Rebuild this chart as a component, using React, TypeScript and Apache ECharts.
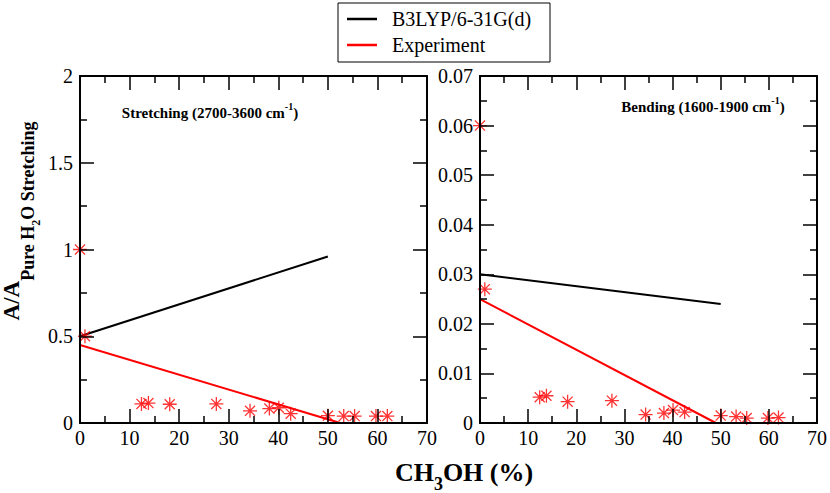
import React, { useEffect, useRef } from "react";
import * as echarts from "echarts";

// ---- data ----
const xTickLabels = ["0", "10", "20", "30", "40", "50", "60", "70"];
const calcX = [0, 50];
const stretchCalc = [0.5, 0.96];
const stretchFitX = [0, 52.5];
const stretchFit = [0.45, 0];
const expX = [0, 1, 12.4, 13.8, 18.1, 27.5, 34.3, 38.2, 40.1, 42.5, 50, 53.2, 55.4, 59.7, 62];
const stretchExp = [1.0, 0.5, 0.11, 0.115, 0.108, 0.11, 0.07, 0.083, 0.088, 0.054, 0.042, 0.04, 0.04, 0.04, 0.04];
const bendCalc = [0.03, 0.024];
const bendFitX = [0, 49];
const bendFit = [0.025, 0];
const bendExpX = [0, 1, 12.4, 13.8, 18.2, 27.4, 34.4, 38.2, 40.1, 42.5, 50, 53.2, 55.4, 59.8, 62];
const bendExp = [0.06, 0.027, 0.0052, 0.0055, 0.0043, 0.0045, 0.0017, 0.002, 0.0026, 0.0022, 0.0015, 0.0013, 0.001, 0.001, 0.0011];
const legendNames = ["B3LYP/6-31G(d)", "Experiment"];

const BLACK = "#000000";
const RED = "#ff0000";
const SERIF = "'Liberation Serif', 'Times New Roman', serif";
const STAR = "path://M0,-1L0,1M-1,0L1,0M-0.72,-0.72L0.72,0.72M-0.72,0.72L0.72,-0.72";

const zip = (xs: number[], ys: number[]) => xs.map((x, i) => [x, ys[i]]);

function makeX(gridIndex: number, position: "bottom" | "top") {
  return {
    type: "value",
    gridIndex,
    position,
    min: 0,
    max: 70,
    interval: 10,
    z: 5,
    axisLine: { show: true, onZero: false, lineStyle: { color: BLACK, width: 2 } },
    axisTick: { show: true, inside: true, length: 14, lineStyle: { color: BLACK, width: 1.5 } },
    minorTick: { show: true, splitNumber: 2, length: 7, lineStyle: { color: BLACK, width: 1.5 } },
    splitLine: { show: false },
    axisLabel: {
      show: position === "bottom",
      color: BLACK,
      fontFamily: SERIF,
      fontSize: 20,
      margin: 5,
      formatter: (v: number) => xTickLabels[Math.round(v / 10)] ?? String(v),
    },
  };
}

function makeY(gridIndex: number, position: "left" | "right", max: number, interval: number) {
  return {
    type: "value",
    gridIndex,
    position,
    min: 0,
    max,
    interval,
    z: 5,
    axisLine: { show: true, onZero: false, lineStyle: { color: BLACK, width: 2 } },
    axisTick: { show: true, inside: true, length: 14, lineStyle: { color: BLACK, width: 1.5 } },
    minorTick: { show: true, splitNumber: 2, length: 7, lineStyle: { color: BLACK, width: 1.5 } },
    splitLine: { show: false },
    axisLabel: {
      show: position === "left",
      color: BLACK,
      fontFamily: SERIF,
      fontSize: 20,
      margin: 7,
    },
  };
}

function lineSeries(name: string, color: string, xi: number, yi: number, data: number[][]) {
  return {
    type: "line",
    name,
    xAxisIndex: xi,
    yAxisIndex: yi,
    data,
    symbol: "none",
    clip: false,
    lineStyle: { color, width: 2 },
    itemStyle: { color },
    z: 2,
  };
}

function starSeries(xi: number, yi: number, data: number[][]) {
  return {
    type: "scatter",
    name: "Experiment data",
    xAxisIndex: xi,
    yAxisIndex: yi,
    data,
    symbol: STAR,
    symbolSize: 14,
    clip: false,
    itemStyle: { color: RED, borderColor: RED, borderWidth: 1.3 },
    z: 3,
  };
}

export default function App() {
  const ref = useRef<HTMLDivElement>(null);
  useEffect(() => {
    if (!ref.current) return;
    const chart = echarts.init(ref.current, undefined, { renderer: "svg" });
    const boldSerif = { fontFamily: SERIF, fontWeight: "bold", fill: BLACK };
    chart.setOption({
      animation: false,
      backgroundColor: "#ffffff",
      textStyle: { fontFamily: SERIF },
      grid: [
        { left: 80, right: 403, top: 76, bottom: 70 },
        { left: 480, right: 12, top: 76, bottom: 70 },
      ],
      xAxis: [makeX(0, "bottom"), makeX(0, "top"), makeX(1, "bottom"), makeX(1, "top")],
      yAxis: [
        makeY(0, "left", 2, 0.5),
        makeY(0, "right", 2, 0.5),
        makeY(1, "left", 0.07, 0.01),
        makeY(1, "right", 0.07, 0.01),
      ],
      series: [
        lineSeries(legendNames[0], BLACK, 0, 0, zip(calcX, stretchCalc)),
        lineSeries(legendNames[1], RED, 0, 0, zip(stretchFitX, stretchFit)),
        starSeries(0, 0, zip(expX, stretchExp)),
        lineSeries(legendNames[0], BLACK, 2, 2, zip(calcX, bendCalc)),
        lineSeries(legendNames[1], RED, 2, 2, zip(bendFitX, bendFit)),
        starSeries(2, 2, zip(bendExpX, bendExp)),
      ],
      graphic: [
        // legend box
        {
          type: "rect",
          shape: { x: 338, y: 3, width: 212, height: 59 },
          style: { fill: "#ffffff", stroke: BLACK, lineWidth: 1 },
          z: 10,
        },
        {
          type: "line",
          shape: { x1: 347, y1: 19, x2: 377, y2: 19 },
          style: { stroke: BLACK, lineWidth: 2.5 },
          z: 11,
        },
        {
          type: "line",
          shape: { x1: 347, y1: 45, x2: 377, y2: 45 },
          style: { stroke: RED, lineWidth: 2.5 },
          z: 11,
        },
        {
          type: "text",
          x: 392,
          y: 19,
          style: { text: legendNames[0], fontFamily: SERIF, fontSize: 20, fill: BLACK, verticalAlign: "middle" },
          z: 11,
        },
        {
          type: "text",
          x: 392,
          y: 45,
          style: { text: legendNames[1], fontFamily: SERIF, fontSize: 20, fill: BLACK, verticalAlign: "middle" },
          z: 11,
        },
        // panel annotations
        {
          type: "text",
          x: 210,
          y: 113,
          style: {
            text: "{m|Stretching (2700-3600 cm}{s|-1}{m|)}",
            align: "center",
            verticalAlign: "middle",
            fontFamily: SERIF,
            rich: {
              m: { ...boldSerif, fontSize: 15 },
              s: { ...boldSerif, fontSize: 10, padding: [0, 0, 13, 0] },
            },
          },
        },
        {
          type: "text",
          x: 703,
          y: 107,
          style: {
            text: "{m|Bending (1600-1900 cm}{s|-1}{m|)}",
            align: "center",
            verticalAlign: "middle",
            fontFamily: SERIF,
            rich: {
              m: { ...boldSerif, fontSize: 15 },
              s: { ...boldSerif, fontSize: 10, padding: [0, 0, 13, 0] },
            },
          },
        },
        // x-axis title
        {
          type: "text",
          x: 464,
          y: 472,
          style: {
            text: "{a|CH}{s|3}{a|OH (%)}",
            align: "center",
            verticalAlign: "middle",
            fontFamily: SERIF,
            rich: {
              a: { ...boldSerif, fontSize: 26 },
              s: { ...boldSerif, fontSize: 18, padding: [23, 0, 0, 0] },
            },
          },
        },
        // y-axis title
        {
          type: "text",
          x: 11,
          y: 221,
          rotation: Math.PI / 2,
          style: {
            text: "{m|A/A}{s|Pure H}{t|2}{s|O Stretching}",
            align: "center",
            verticalAlign: "middle",
            fontFamily: SERIF,
            rich: {
              m: { ...boldSerif, fontSize: 23 },
              s: { ...boldSerif, fontSize: 18, padding: [33, 0, 0, 0] },
              t: { ...boldSerif, fontSize: 12, padding: [49, 0, 0, 0] },
            },
          },
        },
      ],
    });
    return () => chart.dispose();
  }, []);
  return (
    <div
      ref={ref}
      style={{ position: "fixed", left: 0, top: 0, width: 830, height: 493, background: "#fff" }}
    />
  );
}
